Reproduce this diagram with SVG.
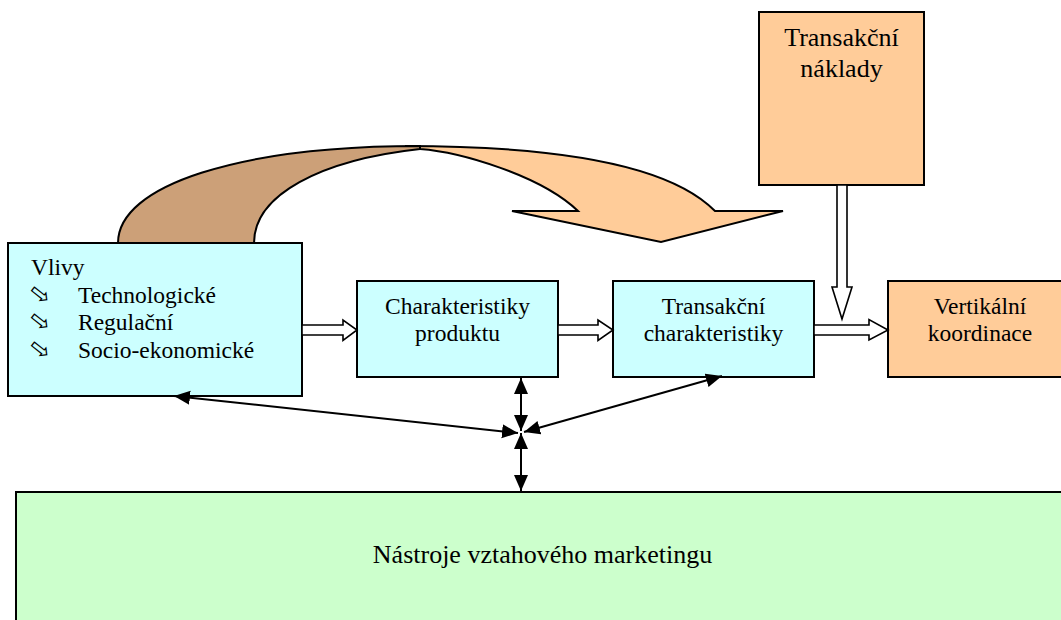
<svg xmlns="http://www.w3.org/2000/svg" width="1061" height="620" viewBox="0 0 1061 620">
  <style>
    .box { stroke: #000; stroke-width: 2; }
    .cyan { fill: #CCFFFF; }
    .orange { fill: #FFCC99; }
    .green { fill: #CCFFCC; }
    .t { font-family: "Liberation Serif", "Times New Roman", serif; fill: #000; }
    .m { font-size: 23.5px; }
    .l { font-size: 26px; }
    .c { text-anchor: middle; }
    .bul { font-family: "DejaVu Sans", sans-serif; font-size: 25px; fill: #000; text-anchor: middle; dominant-baseline: central; }
    .hollow { fill: #fff; stroke: #000; stroke-width: 1.6; stroke-linejoin: miter; }
    .link { stroke: #000; stroke-width: 2; fill: none; marker-start: url(#head); marker-end: url(#head); }
  </style>
  <defs>
    <marker id="head" markerUnits="userSpaceOnUse" markerWidth="17" markerHeight="15" refX="16" refY="7" orient="auto-start-reverse">
      <path d="M0,0 L16,7 L0,14 Z" fill="#000"/>
    </marker>
  </defs>

  <!-- broad curved arrow from the influences box -->
  <g id="curved-arrow" stroke="#000" stroke-width="2" stroke-linejoin="miter">
    <path d="M405,146 C560,146 670,165 715,211 L783,211 L661,242 L512,211 L578,211 C540,175 460,152 420,149 Z" fill="#FFCC99"/>
    <path d="M118,243 C118,185 240,146 420,146 L420,149 C320,160 254,195 254,243 Z" fill="#CCA078"/>
  </g>

  <g id="vlivy">
    <rect class="box cyan" x="8" y="243" width="294" height="153"/>
    <text class="t m" x="31" y="275">Vlivy</text>
    <text class="bul" transform="translate(40.5,294) rotate(38)">⇨</text>
    <text class="t m" x="78" y="303">Technologické</text>
    <text class="bul" transform="translate(40.5,321) rotate(38)">⇨</text>
    <text class="t m" x="78" y="330">Regulační</text>
    <text class="bul" transform="translate(40.5,349) rotate(38)">⇨</text>
    <text class="t m" x="78" y="358">Socio-ekonomické</text>
  </g>

  <g id="charakteristiky-produktu">
    <rect class="box cyan" x="357" y="281" width="201" height="96"/>
    <text class="t m c" x="457.5" y="314">Charakteristiky</text>
    <text class="t m c" x="457.5" y="341">produktu</text>
  </g>

  <g id="transakcni-charakteristiky">
    <rect class="box cyan" x="613" y="281" width="201" height="96"/>
    <text class="t m c" x="713.5" y="314">Transakční</text>
    <text class="t m c" x="713.5" y="341">charakteristiky</text>
  </g>

  <g id="vertikalni-koordinace">
    <rect class="box orange" x="888" y="281" width="185" height="96"/>
    <text class="t m c" x="980" y="314">Vertikální</text>
    <text class="t m c" x="980" y="341">koordinace</text>
  </g>

  <g id="transakcni-naklady">
    <rect class="box orange" x="759" y="12" width="165" height="173"/>
    <text class="t l c" x="841.5" y="46">Transakční</text>
    <text class="t l c" x="841.5" y="77">náklady</text>
  </g>

  <g id="nastroje">
    <rect class="box green" x="16" y="492" width="1060" height="140"/>
    <text class="t l c" x="542.5" y="563">Nástroje vztahového marketingu</text>
  </g>

  <g id="connectors">
    <!-- hollow block arrows -->
    <path class="hollow" d="M302,325 L343,325 L343,320 L357,330 L343,340.5 L343,335 L302,335 Z"/>
    <path class="hollow" d="M558,325 L598,325 L598,320 L613,330 L598,340.5 L598,335 L558,335 Z"/>
    <path class="hollow" d="M814,325 L869,325 L869,319.5 L888,330 L869,340 L869,335 L814,335 Z"/>
    <path class="hollow" d="M837,185 L837,287 L832,287 L842,319 L852,287 L847,287 L847,185 Z"/>
    <!-- two-way links around the central hub -->
    <line class="link" x1="521" y1="378" x2="521" y2="431"/>
    <line class="link" x1="521" y1="433" x2="521" y2="491"/>
    <line class="link" x1="518" y1="433" x2="174" y2="396"/>
    <line class="link" x1="524" y1="432" x2="722" y2="376"/>
  </g>
</svg>
